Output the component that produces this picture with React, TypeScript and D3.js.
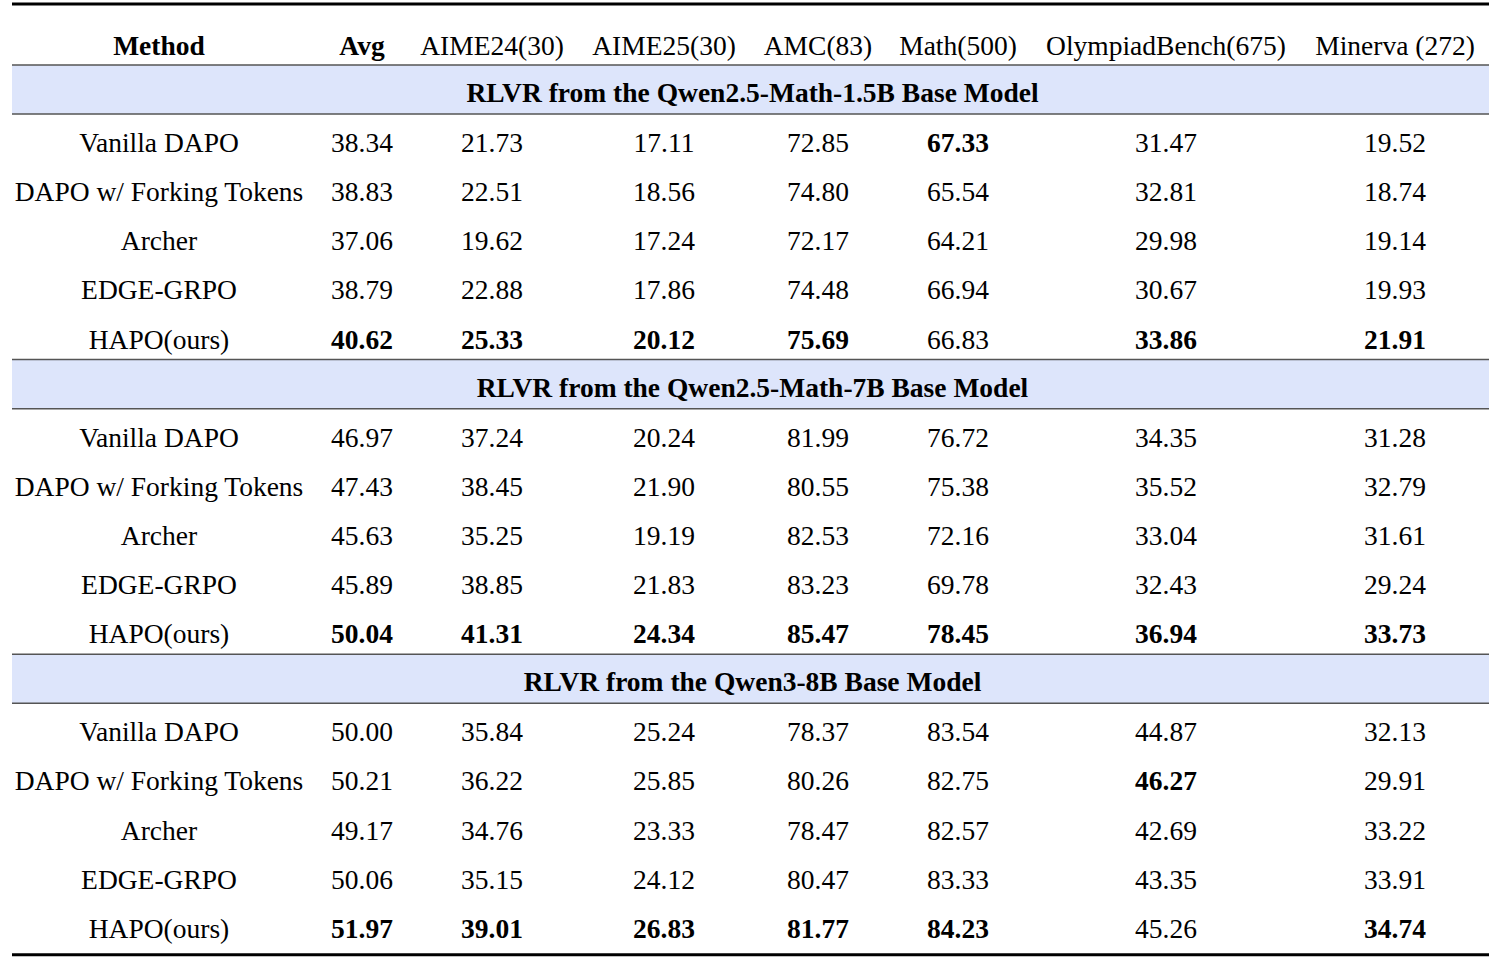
import React from 'react';
import * as d3 from 'd3';

const headers = ['Method', 'Avg', 'AIME24(30)', 'AIME25(30)', 'AMC(83)', 'Math(500)', 'OlympiadBench(675)', 'Minerva (272)'];
const methods = ['Vanilla DAPO', 'DAPO w/ Forking Tokens', 'Archer', 'EDGE-GRPO', 'HAPO(ours)'];
const sectionTitles = [
  'RLVR from the Qwen2.5-Math-1.5B Base Model',
  'RLVR from the Qwen2.5-Math-7B Base Model',
  'RLVR from the Qwen3-8B Base Model',
];
const section1 = [
  [38.34, 21.73, 17.11, 72.85, 67.33, 31.47, 19.52],
  [38.83, 22.51, 18.56, 74.80, 65.54, 32.81, 18.74],
  [37.06, 19.62, 17.24, 72.17, 64.21, 29.98, 19.14],
  [38.79, 22.88, 17.86, 74.48, 66.94, 30.67, 19.93],
  [40.62, 25.33, 20.12, 75.69, 66.83, 33.86, 21.91],
];
const section2 = [
  [46.97, 37.24, 20.24, 81.99, 76.72, 34.35, 31.28],
  [47.43, 38.45, 21.90, 80.55, 75.38, 35.52, 32.79],
  [45.63, 35.25, 19.19, 82.53, 72.16, 33.04, 31.61],
  [45.89, 38.85, 21.83, 83.23, 69.78, 32.43, 29.24],
  [50.04, 41.31, 24.34, 85.47, 78.45, 36.94, 33.73],
];
const section3 = [
  [50.00, 35.84, 25.24, 78.37, 83.54, 44.87, 32.13],
  [50.21, 36.22, 25.85, 80.26, 82.75, 46.27, 29.91],
  [49.17, 34.76, 23.33, 78.47, 82.57, 42.69, 33.22],
  [50.06, 35.15, 24.12, 80.47, 83.33, 43.35, 33.91],
  [51.97, 39.01, 26.83, 81.77, 84.23, 45.26, 34.74],
];
const sections = [section1, section2, section3];

// column center positions in px
const colCenters = [159, 362, 492, 664, 818, 958, 1166, 1395];

export default function App() {
  const W = 1502, H = 970;
  const x0 = 12, x1 = 1489;
  const rowH = 49.1;
  const headerY = 45;
  const fontFamily = '"Liberation Serif", "Times New Roman", serif';
  const fs = 27.5;

  const y = d3.scaleLinear().domain([0, 1]).range([0, rowH]);
  // row slots: header band + 5 rows per section
  const bandTop = (s: number) => 65 + y(s * 6);
  const els: React.ReactNode[] = [];

  sections.forEach((data, s) => {
    const top = bandTop(s);
    els.push(<rect key={`b${s}`} x={x0} y={top} width={x1 - x0} height={rowH} fill="#dde5fb" />);
    els.push(<line key={`lt${s}`} x1={x0} x2={x1} y1={top} y2={top} stroke="#555" strokeWidth={1.5} />);
    els.push(<line key={`lb${s}`} x1={x0} x2={x1} y1={top + rowH} y2={top + rowH} stroke="#555" strokeWidth={1.5} />);
    els.push(
      <text key={`t${s}`} x={(x0 + x1) / 2 + 2} y={top + rowH / 2 + 3} textAnchor="middle" dominantBaseline="central" fontWeight="bold" fontSize={fs}>
        {sectionTitles[s]}
      </text>
    );
    const maxes = data[0].map((_, c) => d3.max(data, r => r[c]) as number);
    data.forEach((row, r) => {
      const cy = top + y(r + 1) + rowH / 2 + 4;
      els.push(
        <text key={`m${s}${r}`} x={colCenters[0]} y={cy} textAnchor="middle" dominantBaseline="central" fontSize={fs}>
          {methods[r]}
        </text>
      );
      row.forEach((v, c) => {
        els.push(
          <text key={`v${s}${r}${c}`} x={colCenters[c + 1]} y={cy} textAnchor="middle" dominantBaseline="central" fontSize={fs} fontWeight={v === maxes[c] ? 'bold' : 'normal'}>
            {v.toFixed(2)}
          </text>
        );
      });
    });
  });

  const bottom = bandTop(3) + 6;

  return (
    <svg width={W} height={H} style={{ position: 'absolute', left: 0, top: 0, background: '#fff' }} fontFamily={fontFamily}>
      <rect width={W} height={H} fill="#fff" />
      <line x1={x0} x2={x1} y1={4} y2={4} stroke="#000" strokeWidth={3} />
      {headers.map((h, i) => (
        <text key={h} x={colCenters[i]} y={headerY} textAnchor="middle" dominantBaseline="central" fontSize={fs} fontWeight={i < 2 ? 'bold' : 'normal'}>
          {h}
        </text>
      ))}
      {els}
      <line x1={x0} x2={x1} y1={bottom} y2={bottom} stroke="#000" strokeWidth={3} />
    </svg>
  );
}
